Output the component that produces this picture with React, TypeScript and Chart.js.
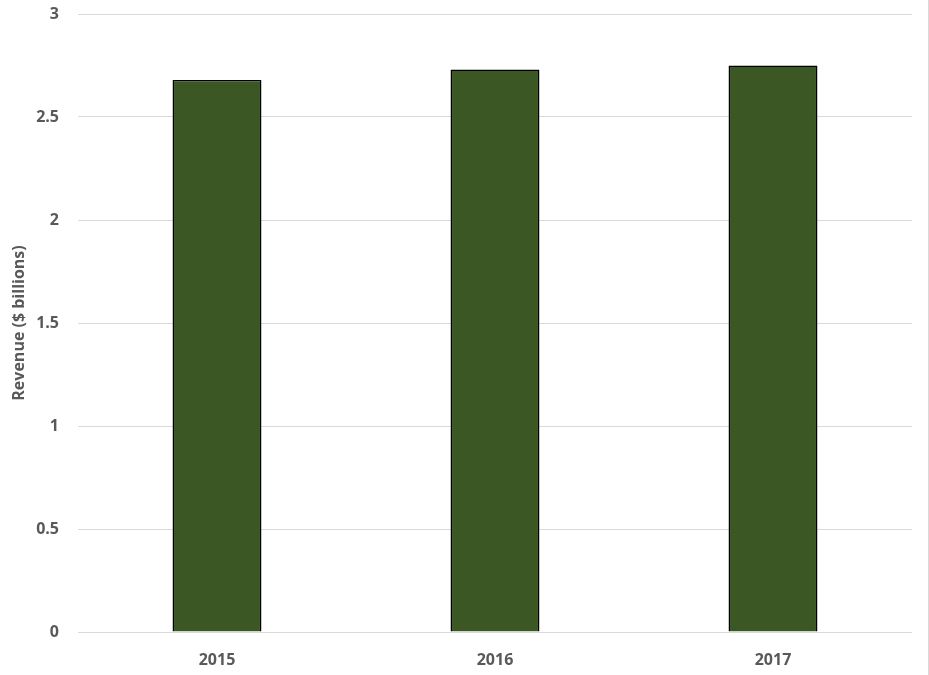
import React, { useEffect, useRef } from "react";
import { Chart, registerables } from "chart.js";

Chart.register(...registerables);

const categories = ["2015", "2016", "2017"];
const revenue = [2.68, 2.73, 2.75];
const yTicks = [0, 0.5, 1, 1.5, 2, 2.5, 3];
const yTitle = "Revenue ($ billions)";

export default function App() {
  const ref = useRef<HTMLCanvasElement>(null);
  useEffect(() => {
    document.body.style.margin = "0";
    const ctx = ref.current!;
    const font = '"Open Sans", "Liberation Sans", sans-serif';
    const chart = new Chart(ctx, {
      type: "bar",
      data: {
        labels: categories,
        datasets: [
          {
            data: revenue,
            backgroundColor: "#3a5724",
            borderColor: "#000000",
            borderWidth: 1.5,
            categoryPercentage: 1,
            barPercentage: 0.32,
          },
        ],
      },
      options: {
        animation: false,
        responsive: false,
        maintainAspectRatio: false,
        layout: { padding: { top: 0, right: 16, left: 0, bottom: 0 } },
        plugins: { legend: { display: false }, tooltip: { enabled: false } },
        scales: {
          x: {
            grid: { display: false },
            border: { display: false },
            ticks: { color: "#595959", font: { family: font, size: 16, weight: "bold" }, padding: 11 },
            afterFit: (s: any) => {
              s.height = 43;
              s.paddingLeft = 0;
              s.paddingRight = 0;
            },
          },
          y: {
            min: 0,
            max: 3,
            afterBuildTicks: (s: any) => {
              s.ticks = yTicks.map((v) => ({ value: v }));
            },
            grid: { color: "#d9d9d9", drawTicks: false, lineWidth: 1 },
            border: { display: false },
            ticks: {
              color: "#595959",
              font: { family: font, size: 16, weight: "bold" },
              padding: 19,
              callback: (v: any) => String(v),
            },
            title: {
              display: true,
              text: yTitle,
              color: "#595959",
              font: { family: font, size: 16, weight: "bold" },
              padding: { top: 10, bottom: 0 },
            },
            afterFit: (s: any) => {
              s.width = 78;
              s.paddingTop = 14;
              s.paddingBottom = 0;
            },
          },
        },
      },
    });
    return () => chart.destroy();
  }, []);
  return (
    <div
      style={{
        position: "absolute",
        left: 0,
        top: 0,
        width: 929,
        height: 675,
        boxSizing: "border-box",
        borderRight: "1px solid #d9d9d9",
        background: "#fff",
      }}
    >
      <canvas ref={ref} width={928} height={675} style={{ display: "block" }} />
    </div>
  );
}
